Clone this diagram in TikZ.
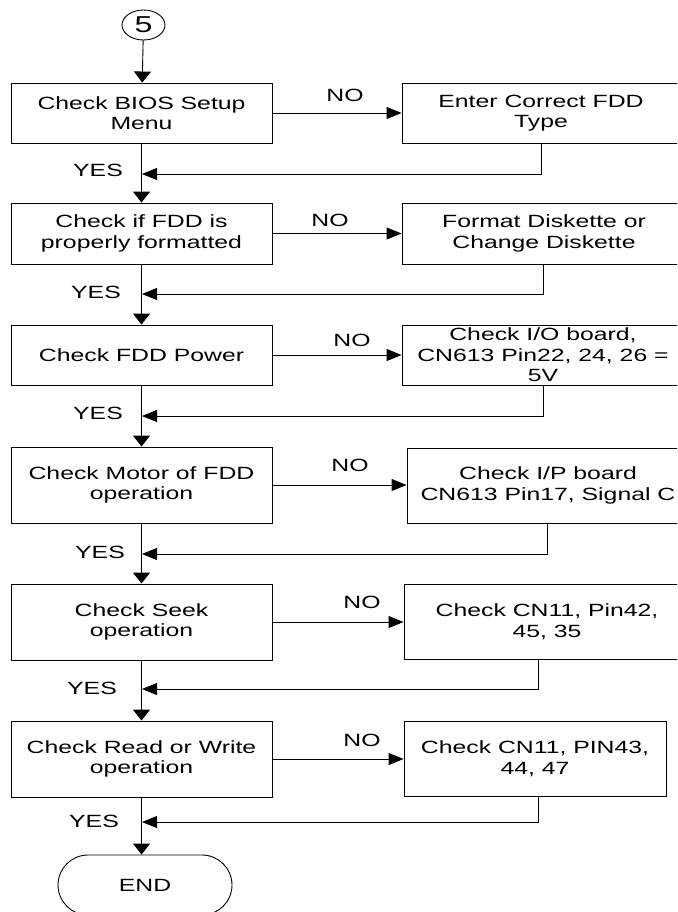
\documentclass[tikz,border=0pt]{standalone}
\usepackage{fontspec}
\setmainfont{Liberation Sans}[FakeStretch=1.4]
\usetikzlibrary{arrows.meta,shapes.geometric,shapes.misc}
\begin{document}
\begin{tikzpicture}[x=1pt,y=-1pt,
  every node/.style={font=\fontsize{17.7}{20.5}\selectfont, text=black},
  box/.style={draw, line width=0.9pt, align=center, inner sep=0pt},
  lbox/.style={box, minimum width=261pt},
  flow/.style={line width=0.9pt},
  vtip/.style={flow, -{Triangle[length=11pt,width=17pt]}},
  htip/.style={flow, -{Triangle[length=15pt,width=12pt]}},
  lbl/.style={inner sep=0pt}
]
\useasboundingbox (0,0) rectangle (677,912);
\clip (0,0) rectangle (677,912);

% connector from the previous page
\node[draw, ellipse, line width=0.9pt, minimum width=43pt, minimum height=30pt, inner sep=0pt,
      font=\fontsize{23}{24}\selectfont] (c5) at (143.5,25) {5};

% main column of checks
\node[lbox, minimum height=60pt] (l1) at (141.5,113)   {Check BIOS Setup\\Menu};
\node[lbox, minimum height=61pt] (l2) at (141.5,233.5) {Check if FDD is\\properly formatted};
\node[lbox, minimum height=60pt] (l3) at (141.5,355)   {Check FDD Power};
\node[lbox, minimum height=76pt] (l4) at (141.5,485)   {Check Motor of FDD\\operation};
\node[lbox, minimum height=76pt] (l5) at (141.5,622)   {Check Seek\\operation};
\node[lbox, minimum height=76pt] (l6) at (141.5,759)   {Check Read or Write\\operation};
\node[draw, rounded rectangle, line width=0.9pt, minimum width=174pt, minimum height=60pt, inner sep=0pt] (end) at (145,885) {END};

% corrective actions
\node[box, minimum width=278pt, minimum height=60pt] (r1) at (541,113)   {Enter Correct FDD\\Type};
\node[box, minimum width=284pt, minimum height=61pt] (r2) at (544,233.5) {Format Diskette or\\Change Diskette};
\node[box, minimum width=282pt, minimum height=60pt] (r3) at (543,355)   {Check I/O board,\\CN613 Pin22, 24, 26 =\\5V};
\node[box, minimum width=282pt, minimum height=75pt] (r4) at (548,485.5) {Check I/P board\\CN613 Pin17, Signal C};
\node[box, minimum width=286pt, minimum height=75pt] (r5) at (547,621.5) {Check CN11, Pin42,\\45, 35};
\node[box, minimum width=262pt, minimum height=75pt] (r6) at (535,758.5) {Check CN11, PIN43,\\44, 47};

% merge points on the main line
\coordinate (j1) at (142,174);
\coordinate (j2) at (142,294);
\coordinate (j3) at (142,416);
\coordinate (j4) at (142,554);
\coordinate (j5) at (142,689);
\coordinate (j6) at (142,822);

% YES path
\draw[vtip] (c5) -- (l1);
\draw[vtip] (l1) -- (l2);
\draw[vtip] (l2) -- (l3);
\draw[vtip] (l3) -- (l4);
\draw[vtip] (l4) -- (l5);
\draw[vtip] (l5) -- (l6);
\draw[vtip] (l6.south) -- (l6.south |- end.north);

% NO branches
\draw[htip] (l1.east) -- (l1.east -| r1.west);
\draw[htip] (l2.east) -- (l2.east -| r2.west);
\draw[htip] (l3.east) -- (l3.east -| r3.west);
\draw[htip] (l4.east) -- (l4.east -| r4.west);
\draw[htip] (l5.east) -- (l5.east -| r5.west);
\draw[htip] (l6.east) -- (l6.east -| r6.west);

% returns to the main line
\draw[htip] (r1.south) |- (j1);
\draw[htip] ([xshift=-1pt]r2.south) |- (j2);
\draw[htip] (r3.south) |- (j3);
\draw[htip] ([xshift=-1pt]r4.south) |- (j4);
\draw[htip] ([xshift=-9pt]r5.south) |- (j5);
\draw[htip] ([xshift=3pt]r6.south) |- (j6);

% branch labels
\node[lbl] (y1) at (98,170) {YES};
\node[lbl] (y2) at (96,292) {YES};
\node[lbl] (y3) at (98,413) {YES};
\node[lbl] (y4) at (100,552) {YES};
\node[lbl] (y5) at (92,688) {YES};
\node[lbl] (y6) at (94,821) {YES};
\node[lbl] (n1) at (345,95)  {NO};
\node[lbl] (n2) at (330,220) {NO};
\node[lbl] (n3) at (352,340) {NO};
\node[lbl] (n4) at (350,465) {NO};
\node[lbl] (n5) at (362,602) {NO};
\node[lbl] (n6) at (362,740) {NO};
\end{tikzpicture}
\end{document}
